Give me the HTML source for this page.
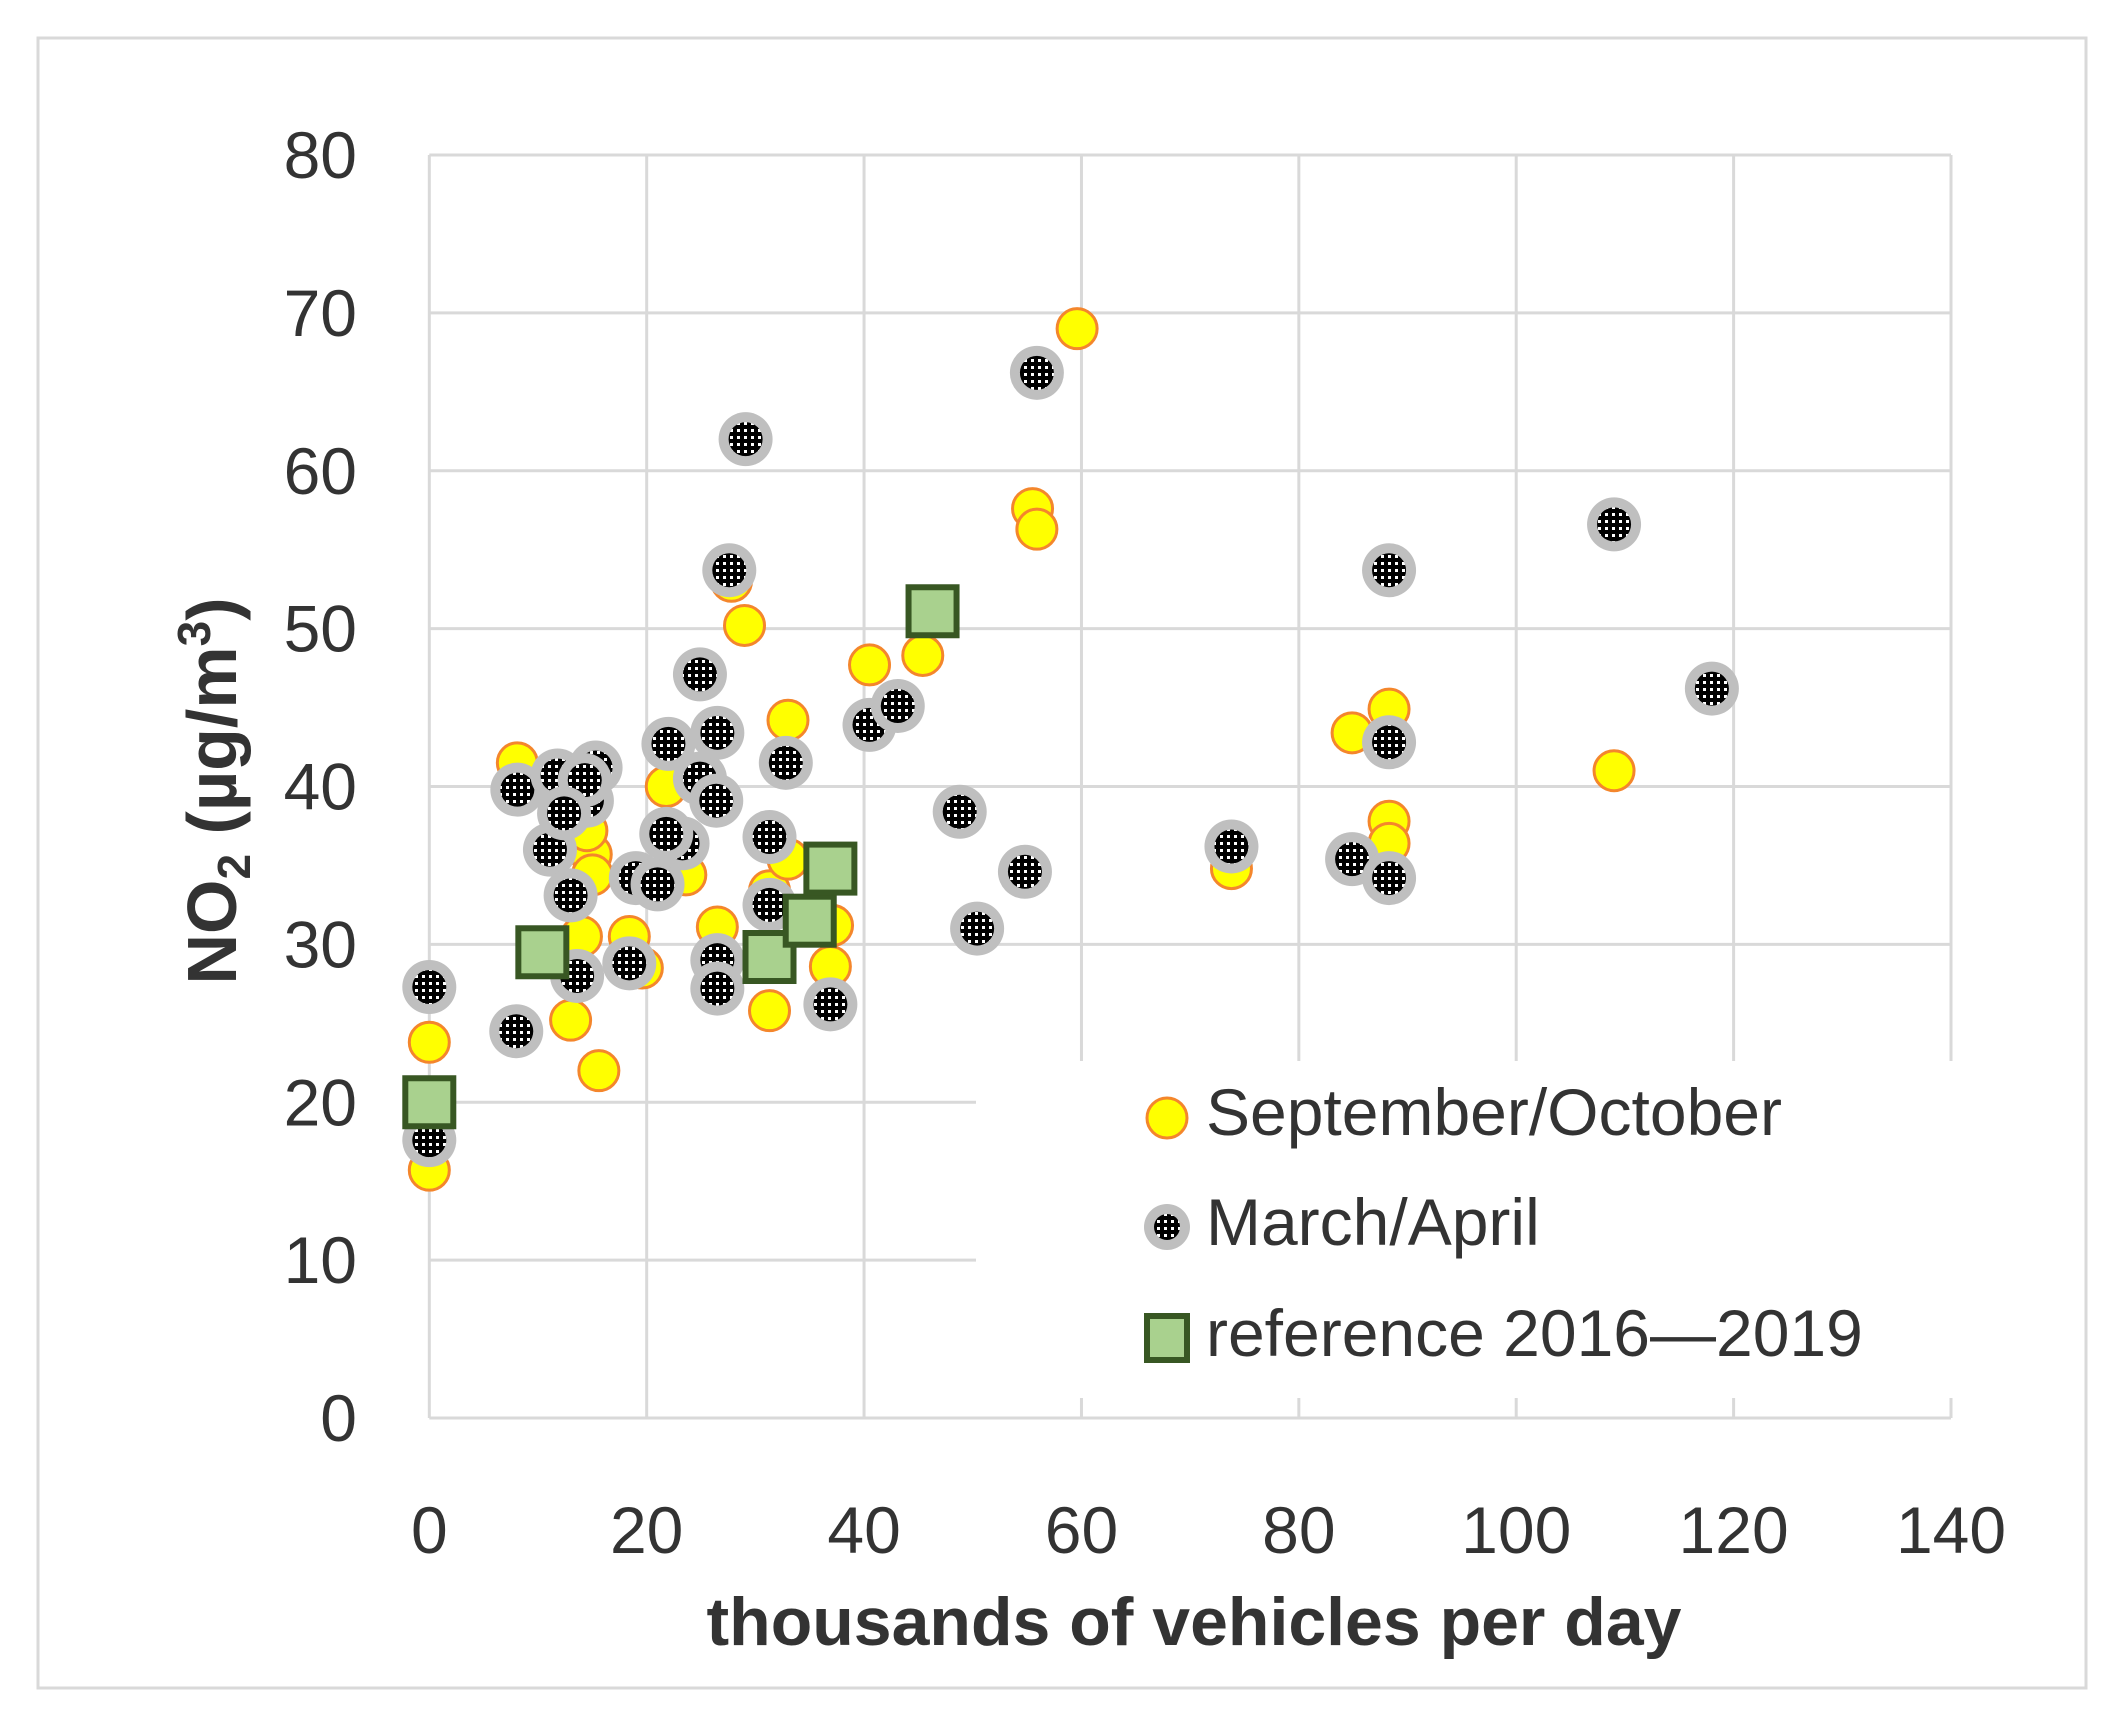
<!DOCTYPE html>
<html><head><meta charset="utf-8">
<style>
html,body{margin:0;padding:0;background:#fff;}
svg{display:block;}
text{font-family:"Liberation Sans","DejaVu Sans",sans-serif;fill:#333;}
</style></head>
<body>
<svg id="chart" width="2127" height="1720" viewBox="0 0 2127 1720">
<defs>
<pattern id="dots" width="7" height="7" patternUnits="userSpaceOnUse">
<rect width="7" height="7" fill="#000"/>
<rect x="2" y="2" width="3" height="3" fill="#fff"/>
</pattern>
</defs>
<rect x="38" y="38" width="2048" height="1650" fill="#fff" stroke="#d9d9d9" stroke-width="3"/>
<g id="grid"></g>
<g id="marks"></g>
<g id="legend">
<rect x="976" y="1061" width="982" height="337" fill="#fff"/>
<circle cx="1167" cy="1118" r="20" fill="#ffff00" stroke="#f4862c" stroke-width="3"/>
<text x="1206" y="1135" font-size="66">September/October</text>
<circle cx="1167" cy="1227" r="23" fill="#bfbfbf"/>
<circle cx="1167" cy="1227" r="13" fill="url(#dots)"/>
<text x="1206" y="1245" font-size="66">March/April</text>
<rect x="1147" y="1316" width="40" height="44" fill="#a9d18e" stroke="#385723" stroke-width="6"/>
<text x="1206" y="1356" font-size="66">reference 2016—2019</text>
</g>
<g id="axes"></g>
<text x="1194" y="1645" font-size="68" font-weight="bold" text-anchor="middle">thousands of vehicles per day</text>
<text transform="translate(236,791) rotate(-90)" font-size="70" font-weight="bold" text-anchor="middle">NO<tspan font-size="46" dy="14">2</tspan><tspan dy="-14"> (µg/m</tspan><tspan font-size="46" dy="-26">3</tspan><tspan dy="26">)</tspan></text>
</svg>
<script>
const xTicks = [0,20,40,60,80,100,120,140];
const yTicks = [0,10,20,30,40,50,60,70,80];
const sepOctX = [0,0,8.1,13,15.6,14.9,14.5,15,14,18.4,19.6,21.8,23.6,26.5,27.8,29,31.3,31.3,33,33,37.1,36.9,40.5,45.4,55.5,55.9,59.6,73.8,84.9,88.3,88.3,88.3,109];
const sepOctY = [15.7,23.8,41.5,25.2,22,35.7,37.2,34.4,30.5,30.5,28.5,40,34.4,31.1,53,50.2,25.8,33.4,44.2,35.4,31.2,28.6,47.7,48.3,57.6,56.3,69,34.8,43.4,44.9,37.8,36.4,41];
const marAprX = [0,0,8,8.1,11.8,11.1,13,13.6,14.5,15.3,14.3,12.4,18.4,19,21,22,23.3,21.8,24.9,24.9,26.4,26.5,26.5,26.5,27.6,29.1,31.3,31.3,32.8,36.9,40.5,43.1,48.8,50.4,54.8,55.9,73.8,84.9,88.3,88.3,88.3,109,118];
const marAprY = [27.3,17.6,24.5,39.8,40.7,36,33.1,28,39.1,41.2,40.4,38.3,28.8,34.2,33.8,42.7,36.4,37,47.1,40.5,39.1,43.4,29,27.2,53.7,62,36.8,32.5,41.5,26.2,43.9,45.1,38.4,31,34.6,66.2,36.2,35.4,53.7,42.8,34.2,56.6,46.2];
const refX = [0,10.4,31.3,35,36.9,46.3];
const refY = [20,29.5,29.2,31.5,34.8,51.1];

const X0=429.3, X1=1951, Y0=1418, Y1=155;
function sx(v){return X0+(v-xTicks[0])/(xTicks[xTicks.length-1]-xTicks[0])*(X1-X0);}
function sy(v){return Y0-(v-yTicks[0])/(yTicks[yTicks.length-1]-yTicks[0])*(Y0-Y1);}
const NS='http://www.w3.org/2000/svg';
function mk(tag,attrs,parent){const e=document.createElementNS(NS,tag);for(const k in attrs)e.setAttribute(k,attrs[k]);parent.appendChild(e);return e;}
const grid=document.getElementById('grid'), marks=document.getElementById('marks'), axes=document.getElementById('axes');
xTicks.forEach(t=>{
  const l=mk('line',{x1:sx(t),x2:sx(t),y1:Y1,y2:Y0,stroke:'#d9d9d9','stroke-width':3},grid);
  
  
  const tx=mk('text',{x:sx(t),y:1553,'font-size':66,'text-anchor':'middle'},axes);
  tx.textContent=t;
  
  
});
yTicks.forEach(t=>{
  const l=mk('line',{x1:X0,x2:X1,y1:sy(t),y2:sy(t),stroke:'#d9d9d9','stroke-width':3},grid);
  
  
  const tx=mk('text',{x:357,y:sy(t)+23,'font-size':66,'text-anchor':'end'},axes);
  tx.textContent=t;
  
  
});
sepOctX.forEach((x,i)=>{
  const c=mk('circle',{cx:sx(x),cy:sy(sepOctY[i]),r:20,fill:'#ffff00',stroke:'#f4862c','stroke-width':3},marks);
  
  
});
marAprX.forEach((x,i)=>{
  const g=mk('g',{},marks);
  
  
  mk('circle',{cx:sx(x),cy:sy(marAprY[i]),r:27,fill:'#bfbfbf'},g);
  mk('circle',{cx:sx(x),cy:sy(marAprY[i]),r:17,fill:'url(#dots)'},g);
});
refX.forEach((x,i)=>{
  const r=mk('rect',{x:sx(x)-24,y:sy(refY[i])-24,width:48,height:48,fill:'#a9d18e',stroke:'#385723','stroke-width':6},marks);
  
  
});
</script>
</body></html>
